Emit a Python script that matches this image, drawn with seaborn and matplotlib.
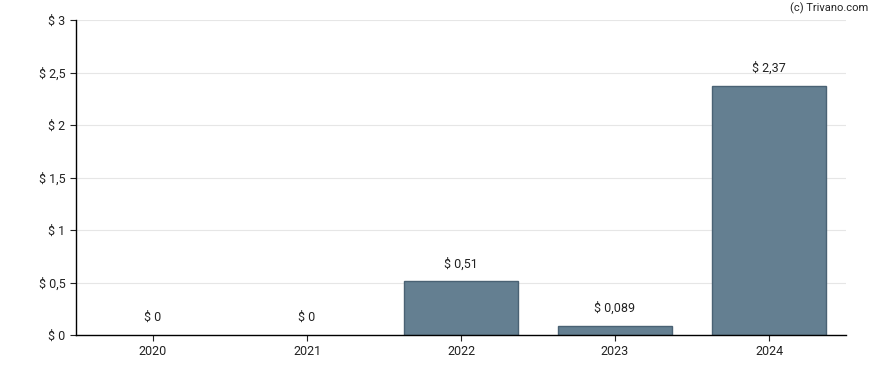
import pandas as pd
import matplotlib
matplotlib.use("Agg")
import matplotlib.pyplot as plt
import seaborn as sns

years = ["2020", "2021", "2022", "2023", "2024"]
values = [0.0, 0.0, 0.51, 0.089, 2.37]
labels = ["$ 0", "$ 0", "$ 0,51", "$ 0,089", "$ 2,37"]
yticks = [0, 0.5, 1, 1.5, 2, 2.5, 3]
ytick_labels = ["$ 0", "$ 0,5", "$ 1", "$ 1,5", "$ 2", "$ 2,5", "$ 3"]

df = pd.DataFrame({"year": years, "value": values})

sns.set_style("white")
plt.rcParams["font.family"] = ["Roboto", "DejaVu Sans"]

fig = plt.figure(figsize=(8.88, 3.70), dpi=100)
ax = fig.add_axes([76 / 888, 35 / 370, 770 / 888, 315 / 370])

sns.barplot(data=df, x="year", y="value", color="#647f91", width=0.74,
            edgecolor="#4a6274", linewidth=1, saturation=1, ax=ax, zorder=2)

# no outline for empty bars
for p in ax.patches:
    if p.get_height() == 0:
        p.set_linewidth(0)

for i, (v, t) in enumerate(zip(values, labels)):
    ax.annotate(t, (i, v), xytext=(0, 8), textcoords="offset points",
                ha="center", va="bottom", fontsize=9, color="#222222")

ax.set_ylim(0, 3)
ax.set_xlim(-0.5, 4.5)
ax.set_yticks(yticks)
ax.set_yticklabels(ytick_labels)
ax.yaxis.grid(True, color="#e6e6e6", linewidth=0.8, zorder=0)
ax.set_axisbelow(True)
ax.set_xlabel("")
ax.set_ylabel("")
for s in ["top", "right"]:
    ax.spines[s].set_visible(False)
for s in ["left", "bottom"]:
    ax.spines[s].set_color("black")
    ax.spines[s].set_linewidth(1)
ax.tick_params(axis="both", labelsize=9, colors="#222222", length=4, width=0.8,
               bottom=True, left=True)

fig.text(868 / 888, 1 - 8 / 370, "(c) Trivano.com", ha="right", va="center",
         fontsize=8, color="#222222")

fig.savefig("out.png", dpi=100)
